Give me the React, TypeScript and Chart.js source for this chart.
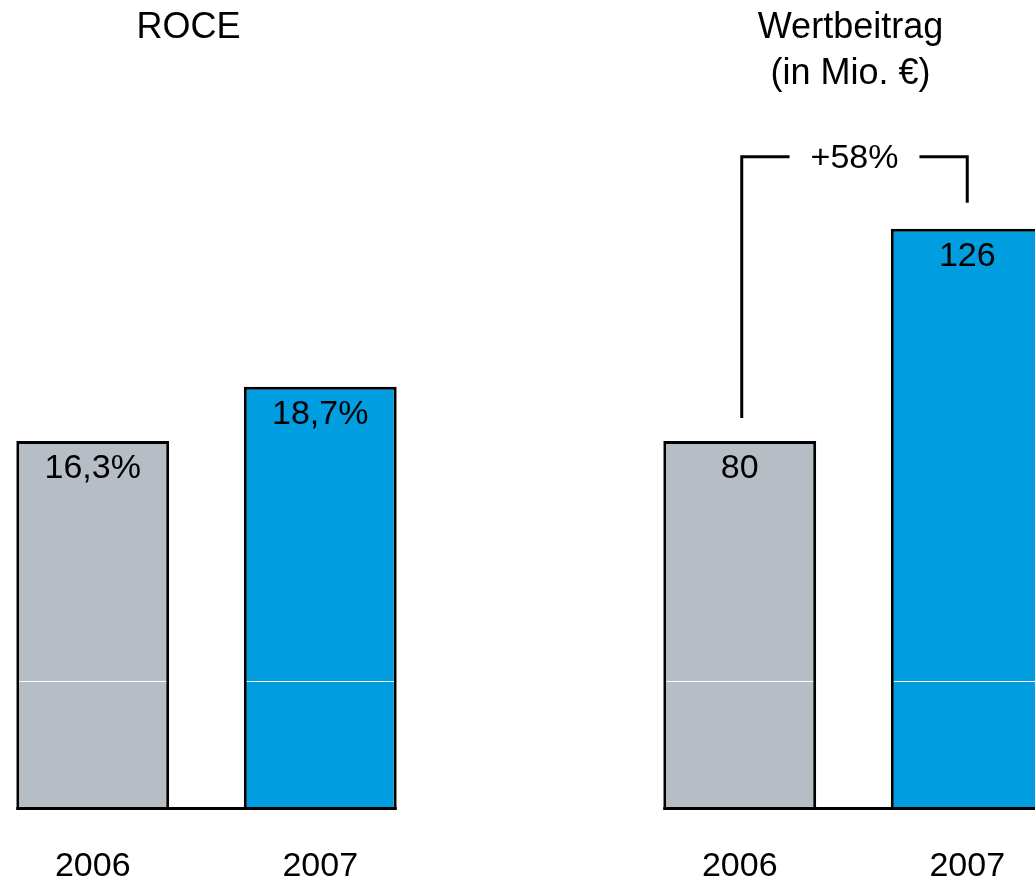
import React, { useEffect, useRef } from "react";
import { Chart, registerables } from "chart.js";

Chart.register(...registerables);

const years = ["2006", "2007"];
const roceValues = [16.3, 18.7];
const roceLabels = ["16,3%", "18,7%"];
const wertValues = [80, 126];
const wertLabels = ["80", "126"];
const barColors = ["#B7BDC4", "#009EE0"];
const roceTitle = ["ROCE"];
const wertTitle = ["Wertbeitrag", "(in Mio. €)"];
const growthLabel = "+58%";
const roceMax = 30;
const wertMax = 150;

const FONT = '"Liberation Sans", Arial, Helvetica, sans-serif';

type PanelProps = {
  values: number[];
  labels: string[];
  title: string[];
  titleOffset: number;
  max: number;
  padTop: number;
  left: number;
  bracket?: string;
};

function Panel({ values, labels, title, titleOffset, max, padTop, left, bracket }: PanelProps) {
  const ref = useRef<HTMLCanvasElement | null>(null);

  useEffect(() => {
    const canvas = ref.current;
    if (!canvas) return;

    const drawPlugin = {
      id: "panelDecor",
      afterDatasetsDraw(chart: any) {
        const ctx = chart.ctx as CanvasRenderingContext2D;
        const bars = chart.getDatasetMeta(0).data as any[];
        const base = chart.scales.y.getPixelForValue(0);
        const last = bars.length - 1;
        ctx.save();

        // thin white line across the bars
        ctx.strokeStyle = "#ffffff";
        ctx.lineWidth = 1;
        bars.forEach((b) => {
          ctx.beginPath();
          ctx.moveTo(b.x - b.width / 2 + 3, base - 128.5);
          ctx.lineTo(b.x + b.width / 2 - 3, base - 128.5);
          ctx.stroke();
        });

        // baseline
        ctx.strokeStyle = "#000000";
        ctx.lineWidth = 3;
        ctx.beginPath();
        ctx.moveTo(bars[0].x - bars[0].width / 2, base - 1.5);
        ctx.lineTo(bars[last].x + bars[last].width / 2, base - 1.5);
        ctx.stroke();

        ctx.fillStyle = "#000000";
        ctx.textAlign = "center";
        ctx.textBaseline = "alphabetic";

        // value labels
        ctx.font = `34px ${FONT}`;
        bars.forEach((b, i) => ctx.fillText(labels[i], b.x, b.y + 37));

        // year labels
        ctx.font = `34px ${FONT}`;
        bars.forEach((b, i) => ctx.fillText(years[i], b.x, base + 66));

        // titles
        const mid = (bars[0].x + bars[last].x) / 2 + titleOffset;
        ctx.font = `36px ${FONT}`;
        title.forEach((t, i) => ctx.fillText(t, mid, 38 + i * 46));

        // growth bracket
        if (bracket) {
          const lx = bars[0].x + 2;
          const rx = bars[last].x;
          const topY = bars[last].y - 72;
          const cx = (lx + rx) / 2;
          ctx.font = `34px ${FONT}`;
          const half = ctx.measureText(bracket).width / 2 + 21;
          ctx.lineWidth = 3;
          ctx.lineCap = "butt";
          ctx.lineJoin = "miter";
          ctx.beginPath();
          ctx.moveTo(lx, bars[0].y - 23);
          ctx.lineTo(lx, topY);
          ctx.lineTo(cx - half, topY);
          ctx.moveTo(cx + half, topY);
          ctx.lineTo(rx, topY);
          ctx.lineTo(rx, bars[last].y - 26);
          ctx.stroke();
          ctx.fillText(bracket, cx, topY + 11);
        }
        ctx.restore();
      },
    };

    const chart = new Chart(canvas, {
      type: "bar",
      data: {
        labels: years,
        datasets: [
          {
            data: values,
            backgroundColor: barColors,
            borderColor: "#000000",
            borderWidth: 3,
            borderSkipped: false,
            barPercentage: 0.672,
            categoryPercentage: 1,
          },
        ],
      },
      options: {
        animation: false,
        responsive: false,
        devicePixelRatio: 1,
        layout: { padding: { top: padTop, bottom: 73, left: 0, right: 0 } },
        plugins: {
          legend: { display: false },
          tooltip: { enabled: false },
          title: { display: false },
        },
        scales: {
          x: { display: false },
          y: { display: false, min: 0, max },
        },
      },
      plugins: [drawPlugin],
    } as any);

    return () => chart.destroy();
  }, []);

  return (
    <canvas
      ref={ref}
      width={455}
      height={883}
      style={{ position: "absolute", left, top: 0, width: 455, height: 883 }}
    />
  );
}

export default function App() {
  return (
    <div
      style={{
        position: "fixed",
        left: 0,
        top: 0,
        width: 1035,
        height: 883,
        overflow: "hidden",
        background: "#ffffff",
      }}
    >
      <Panel
        values={roceValues}
        labels={roceLabels}
        title={roceTitle}
        titleOffset={-18}
        max={roceMax}
        padTop={131}
        left={-21}
      />
      <Panel
        values={wertValues}
        labels={wertLabels}
        title={wertTitle}
        titleOffset={-3}
        max={wertMax}
        padTop={118}
        left={626}
        bracket={growthLabel}
      />
    </div>
  );
}
